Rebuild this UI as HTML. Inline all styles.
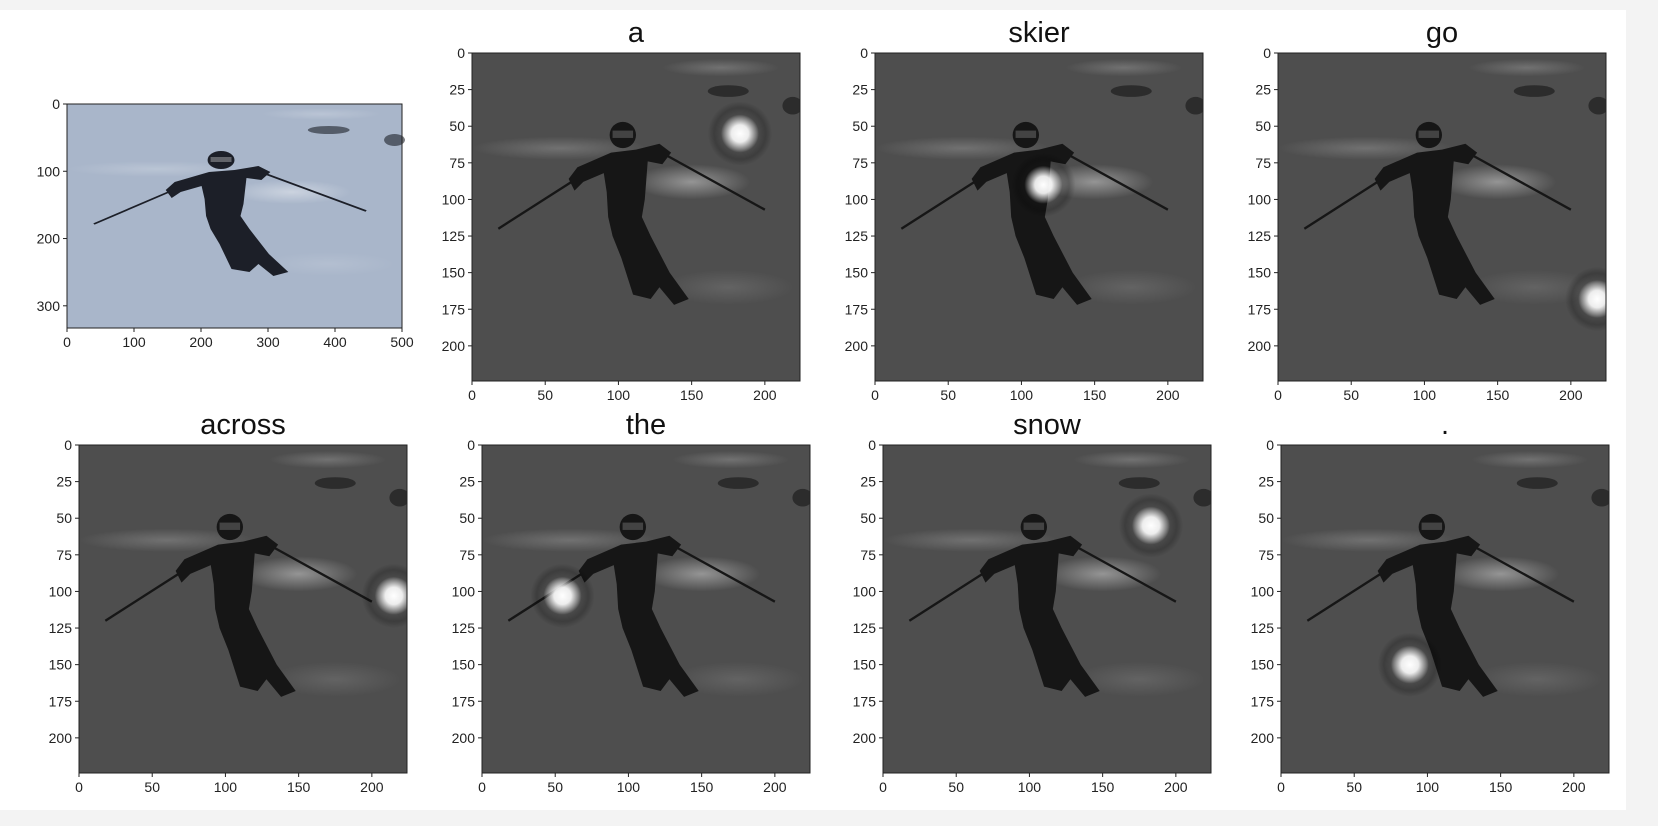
<!DOCTYPE html>
<html><head><meta charset="utf-8"><style>
body{margin:0;width:1658px;height:826px;background:#f3f3f3;overflow:hidden;font-family:"Liberation Sans","DejaVu Sans",sans-serif}
#bg{position:absolute;left:0;top:10px;width:1626px;height:800px;background:#fff}
svg{position:absolute;left:0;top:0}
</style></head><body>
<div id="bg"></div>
<svg id="fig" width="1658" height="826">
<defs>
<radialGradient id="blob"><stop offset="0" stop-color="#fff" stop-opacity="1"/><stop offset="0.45" stop-color="#fff" stop-opacity="0.9"/><stop offset="1" stop-color="#fff" stop-opacity="0"/></radialGradient>
<radialGradient id="halo"><stop offset="0.5" stop-color="#000" stop-opacity="0"/><stop offset="0.8" stop-color="#000" stop-opacity="0.22"/><stop offset="1" stop-color="#000" stop-opacity="0"/></radialGradient>
<radialGradient id="patch"><stop offset="0" stop-color="#fff" stop-opacity="0.4"/><stop offset="1" stop-color="#fff" stop-opacity="0"/></radialGradient>
</defs>
</svg>
<script>
const words = ["a","skier","go","across","the","snow","."];
const blobX = [183,115,218,215,55,183,88];
const blobY = [55,90,168,103,103,55,150];
const gridTicksX = [0,50,100,150,200];
const gridTicksY = [0,25,50,75,100,125,150,175,200];
const origTicksX = [0,100,200,300,400,500];
const origTicksY = [0,100,200,300];
const NS="http://www.w3.org/2000/svg";
const fig=document.getElementById('fig');
function mk(tag,attrs,parent){const e=document.createElementNS(NS,tag);for(const k in attrs)e.setAttribute(k,attrs[k]);(parent||fig).appendChild(e);return e;}
function scene(g,bg,dark,light){
  mk('rect',{x:0,y:0,width:224,height:224,fill:bg},g);
  mk('ellipse',{cx:150,cy:88,rx:40,ry:12,fill:'url(#patch)'},g);
  mk('ellipse',{cx:60,cy:65,rx:60,ry:8,fill:'url(#patch)',opacity:0.5},g);
  mk('ellipse',{cx:170,cy:10,rx:40,ry:6,fill:'url(#patch)',opacity:0.5},g);
  mk('ellipse',{cx:175,cy:160,rx:45,ry:12,fill:'url(#patch)',opacity:0.3},g);
  mk('ellipse',{cx:175,cy:26,rx:14,ry:4,fill:dark,opacity:0.6},g);
  mk('ellipse',{cx:219,cy:36,rx:7,ry:6,fill:dark,opacity:0.6},g);
  mk('line',{x1:68,y1:88,x2:18,y2:120,stroke:dark,'stroke-width':1.6},g);
  mk('line',{x1:133,y1:70,x2:200,y2:107,stroke:dark,'stroke-width':1.6},g);
  mk('polygon',{points:'66,86 72,78 95,68 112,66 128,62 136,68 130,76 120,74 118,100 116,112 122,125 135,150 148,168 138,172 128,160 122,168 110,165 102,140 96,125 93,112 92,95 90,82 76,88 70,94',fill:dark},g);
  mk('circle',{cx:103,cy:56,r:9,fill:dark},g);
  mk('rect',{x:96,y:53,width:14,height:5,fill:light,opacity:0.4},g);
}
function ticks(x0,y0,w,h,xr,yr,tx,ty){
  mk('rect',{x:x0,y:y0,width:w,height:h,fill:'none',stroke:'#222','stroke-width':1});
  tx.forEach(v=>{const px=x0+v/xr*w;
    const t=mk('line',{x1:px,y1:y0+h,x2:px,y2:y0+h+4,stroke:'#222'});
    
    
    const l=mk('text',{x:px,y:y0+h+19,'text-anchor':'middle','font-size':14,fill:'#222'});l.textContent=v;
    
    });
  ty.forEach(v=>{const py=y0+v/yr*h;
    const t=mk('line',{x1:x0-4,y1:py,x2:x0,y2:py,stroke:'#222'});
    
    
    const l=mk('text',{x:x0-7,y:py+5,'text-anchor':'end','font-size':14,fill:'#222'});l.textContent=v;
    
    });
}
(function(){
  const x0=67,y0=104,w=335,h=224;
  const g=mk('g',{transform:`translate(${x0},${y0}) scale(${w/224},${h/224})`});
  
  
  scene(g,'#a9b6ca','#1c1f28','#ccc');
  ticks(x0,y0,w,h,500,333,origTicksX,origTicksY);
})();
const posX=[472,875,1278,79,482,883,1281];
const posY=[53,53,53,445,445,445,445];
words.forEach((wd,i)=>{
  const x0=posX[i],y0=posY[i],s=328;
  const cp=mk('clipPath',{id:'c'+i});
  mk('rect',{x:0,y:0,width:224,height:224},cp);
  const g=mk('g',{transform:`translate(${x0},${y0}) scale(${s/224})`,'clip-path':'url(#c'+i+')'});
  
  
  scene(g,'#4e4e4e','#161616','#888');
  mk('circle',{cx:blobX[i],cy:blobY[i],r:22,fill:'url(#halo)'},g);
  const b=mk('circle',{cx:blobX[i],cy:blobY[i],r:13,fill:'url(#blob)'},g);
  
  
  ticks(x0,y0,s,s,224,224,gridTicksX,gridTicksY);
  const t=mk('text',{x:x0+s/2,y:y0-11,'text-anchor':'middle','font-size':29,fill:'#111'});
  t.textContent=wd;
  
  
});
</script>
</body></html>
